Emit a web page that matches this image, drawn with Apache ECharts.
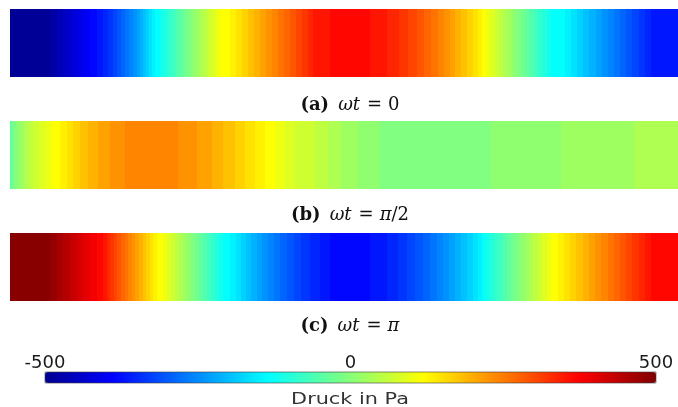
<!DOCTYPE html>
<html>
<head>
<meta charset="utf-8">
<script src="https://cdn.jsdelivr.net/npm/echarts@6/dist/echarts.min.js"></script>
<style>
html,body{margin:0;padding:0;background:#fff;}
#chart{width:678px;height:407px;}
</style>
</head>
<body>
<div id="chart"></div>
<script>
// Positions along the duct (mm, band end points), band pressures (Pa)
const stripA_ends = [40,47,53,60,67,73,80,87,93,98,103,107,111,115,119,123,127,130,133,136,139,142,145,150,
  154,158,162,166,170,174,178,182,186,190,194,198,202,206,210,220,
  226,232,238,244,250,256,262,268,274,280,286,292,298,303,320,360,
  377,389,398,407,414,421,428,434,440,445,451,457,463,468,472,476,
  480,485,489,493,498,502,506,511,515,519,524,528,532,537,541,555,
  561,567,573,579,586,592,598,604,610,616,622,629,635,641,668];
const stripA_vals = [-492,-477,-461,-445,-430,-414,-398,-383,-367,-352,-336,-320,-305,-289,-273,-258,-242,-227,-211,-195,-180,-164,-148,-133,
  -117,-102,-86,-70,-55,-39,-23,-8,8,23,39,55,70,86,102,117,
  133,148,164,180,195,211,227,242,258,273,289,305,320,336,352,367,
  352,336,320,305,289,273,258,242,227,211,195,180,164,148,133,117,
  102,86,70,55,39,23,8,-8,-23,-39,-55,-70,-86,-102,-117,-133,
  -148,-164,-180,-195,-211,-227,-242,-258,-273,-289,-305,-320,-336,-352,-367];

const stripB_ends = [2,4,7,10,14,18,23,29,36,42,50,57,63,70,78,88,100,115,168,187,202,213,225,235,245,255,265,275,285,305,318,331,348,370,481,551,624,668];
const stripB_vals = [-39,-23,-8,8,23,39,55,70,86,102,117,133,148,164,180,195,211,227,242,227,211,195,180,164,148,133,117,102,86,70,55,39,23,8,-8,8,23,39];

const stripC_ends = [40,47,53,60,67,73,80,87,93,
  97,100,104,107,111,115,118,122,125,129,133,136,140,143,147,153,
  157,161,165,169,173,177,181,185,189,193,197,201,205,209,213,220,
  226,231,236,241,247,252,258,264,270,277,284,291,300,310,320,360,
  377,388,397,405,413,420,427,433,439,445,451,457,463,468,472,475,
  479,484,488,493,497,501,506,510,515,519,523,528,532,537,541,548,
  554,560,566,573,579,585,591,598,604,610,616,622,629,635,641,668];
const stripC_vals = [492,477,461,445,430,414,398,383,367,
  352,336,320,305,289,273,258,242,227,211,195,180,164,148,133,117,
  102,86,70,55,39,23,8,-8,-23,-39,-55,-70,-86,-102,-117,-133,
  -148,-164,-180,-195,-211,-227,-242,-258,-273,-289,-305,-320,-336,-352,-367,-383,
  -367,-352,-336,-320,-305,-289,-273,-258,-242,-227,-211,-195,-180,-164,-148,-133,
  -117,-102,-86,-70,-55,-39,-23,-8,8,23,39,55,70,86,102,117,
  133,148,164,180,195,211,227,242,258,273,289,305,320,336,352,367];

const captionLabels = ['(a)', '(b)', '(c)'];
const captionPhases = ['{n|0}', '{m|π}{n|/2}', '{m|π}'];
const colorbarTicks = [-500, 0, 500];
const colorbarName = 'Druck in Pa';
const pMin = -500, pMax = 500;

// jet colormap with 64 levels (style)
function jet64() {
  const out = [];
  for (let i = 0; i < 64; i++) {
    let r, g, b;
    if (i < 8) { r = 0; g = 0; b = 0.5625 + i * 0.0625; }
    else if (i < 24) { r = 0; g = (i - 7) * 0.0625; b = 1; }
    else if (i < 40) { r = (i - 23) * 0.0625; g = 1; b = 1 - (i - 23) * 0.0625; }
    else if (i < 56) { r = 1; g = 1 - (i - 39) * 0.0625; b = 0; }
    else { r = 1 - (i - 55) * 0.0625; g = 0; b = 0; }
    const h = v => Math.round(Math.max(0, Math.min(1, v)) * 255).toString(16).padStart(2, '0');
    out.push('#' + h(r) + h(g) + h(b));
  }
  return out;
}

function bands(ends, vals) {
  return ends.map((e, i) => [i === 0 ? 0 : ends[i - 1], e, vals[i]]);
}

function renderItem(params, api) {
  const p0 = api.coord([api.value(0), 1]);
  const p1 = api.coord([api.value(1), 0]);
  return {
    type: 'rect',
    shape: { x: p0[0], y: p0[1], width: p1[0] - p0[0] + 0.6, height: p1[1] - p0[1] },
    style: { fill: api.visual('color') }
  };
}

const stripTops = [9, 121, 233];
const stripData = [bands(stripA_ends, stripA_vals), bands(stripB_ends, stripB_vals), bands(stripC_ends, stripC_vals)];

const grids = stripTops.map(t => ({ left: 10, right: 0, top: t, height: 68 }));
grids.push({ left: 45, width: 611, top: 372, height: 11 });

const xAxes = [0, 1, 2].map(i => ({ type: 'value', gridIndex: i, min: 0, max: 668, show: false }));
xAxes.push({
  type: 'value', gridIndex: 3, min: pMin, max: pMax, interval: 500, position: 'top',
  axisLine: { show: false }, splitLine: { show: false },
  axisTick: { show: false },
  axisLabel: { fontSize: 18, color: '#1a1a1a', fontFamily: 'DejaVu Sans', margin: 0,
    customValues: colorbarTicks }
});
const yAxes = [0, 1, 2, 3].map(i => ({ type: 'value', gridIndex: i, min: 0, max: 1, show: false }));

const series = stripData.map((d, i) => ({
  type: 'custom', xAxisIndex: i, yAxisIndex: i, renderItem, data: d,
  encode: { x: [0, 1], y: [] }, silent: true
}));

const captionY = [105, 215, 326];
const fs = 18;
const graphics = captionLabels.map((lab, i) => ({
  type: 'text', x: 350, y: captionY[i], silent: true,
  style: {
    text: '{b|' + lab + '}{m|ωt}{eq|=}' + captionPhases[i],
    align: 'center', verticalAlign: 'middle',
    fontFamily: 'DejaVu Serif', fontSize: fs, fill: '#111',
    rich: {
      b: { fontFamily: 'DejaVu Serif', fontWeight: 'bold', fontSize: fs, fill: '#111', padding: [0, 9, 0, 0] },
      m: { fontFamily: 'DejaVu Serif', fontStyle: 'italic', fontSize: fs, fill: '#111' },
      eq: { fontFamily: 'DejaVu Serif', fontSize: fs, fill: '#111', padding: [0, 6, 0, 7] },
      n: { fontFamily: 'DejaVu Serif', fontSize: fs, fill: '#111' }
    }
  }
}));
graphics.push({
  type: 'text', x: 350, y: 400, silent: true, scaleX: 1.3,
  style: { text: colorbarName, align: 'center', verticalAlign: 'middle',
    fontFamily: 'DejaVu Sans', fontSize: 16, fill: '#333' }
});
graphics.push({
  type: 'rect', silent: true, z: 100,
  shape: { x: 45, y: 372, width: 611, height: 11 },
  style: { fill: null, stroke: 'rgba(60,60,60,0.6)', lineWidth: 1 }
});

const chart = echarts.init(document.getElementById('chart'), null, { renderer: 'canvas' });
chart.setOption({
  animation: false,
  backgroundColor: '#fff',
  grid: grids,
  xAxis: xAxes,
  yAxis: yAxes,
  visualMap: {
    type: 'continuous', min: pMin, max: pMax, dimension: 2, seriesIndex: [0, 1, 2],
    orient: 'horizontal', left: 45, top: 372, itemWidth: 11, itemHeight: 611,
    calculable: false, padding: 0, hoverLink: false, text: null, show: true,
    inRange: { color: jet64() }
  },
  graphic: graphics,
  series
});
</script>
</body>
</html>
